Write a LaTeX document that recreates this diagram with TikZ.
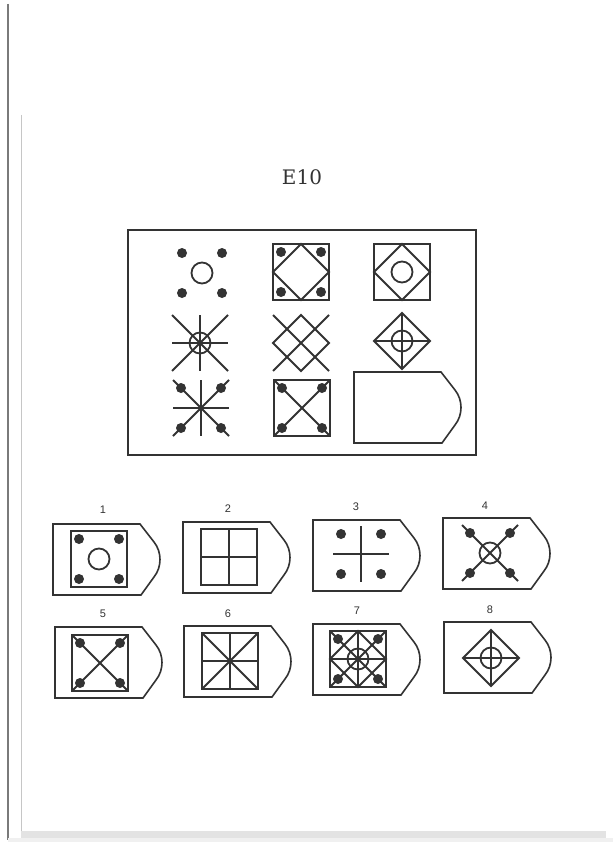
\documentclass[tikz,border=0pt]{standalone}
\usepackage{fontspec}
\newfontfamily\titlefont{DejaVu Serif}
\newfontfamily\labfont{Liberation Sans}
\definecolor{ink}{HTML}{333333}
\definecolor{scan}{HTML}{7A7A7A}
\begin{document}
\begin{tikzpicture}[x=1pt,y=-1pt,
  fig/.style={draw=ink, line width=1.8pt, line join=miter},
  dotfill/.style={fill=ink},
  lab/.style={font=\labfont\fontsize{11}{13}\selectfont, text=ink},
  sqr/.pic={\draw[fig] (-28,-28) rectangle (28,28);},
  dia/.pic={\draw[fig] (0,-28) -- (28,0) -- (0,28) -- (-28,0) -- cycle;},
  circ/.pic={\draw[fig] (0,0) circle[radius=10.5pt];},
  crs/.pic={\draw[fig] (-28,0) -- (28,0) (0,-28) -- (0,28);},
  xd/.pic={\draw[fig] (-28,-28) -- (28,28) (28,-28) -- (-28,28);},
  fourdots/.pic={\fill[dotfill] (-20,-20) circle[radius=5pt] (20,-20) circle[radius=5pt]
      (-20,20) circle[radius=5pt] (20,20) circle[radius=5pt];},
  tagshape/.pic={\draw[fig, line width=1.6pt] (0,0) -- (87,0) -- (101,18)
      .. controls (109,28) and (109,43) .. (101,53) -- (88,71) -- (0,71) -- cycle;}
]
\fill[white] (0,0) rectangle (613,850);
\useasboundingbox (0,0) rectangle (613,850);
% scan edges
\draw[scan, line width=1.6pt] (8,4) -- (8,840);
\draw[gray!45, line width=0.8pt] (21,115) -- (21,832);
\fill[gray!22] (21,831) rectangle (606,838);
\fill[gray!12] (8,838) rectangle (613,842);

% title
\node[font=\titlefont\fontsize{20}{22}\selectfont, text=ink] (title) at (302,177) {E10};

% matrix frame
\draw[fig, line width=1.8pt] (128,230) rectangle (476,455);

% row 1
\pic at (202,273) {circ};
\pic at (202,273) {fourdots};
\pic at (301,272) {sqr};
\pic at (301,272) {dia};
\pic at (301,272) {fourdots};
\pic at (402,272) {sqr};
\pic at (402,272) {dia};
\pic at (402,272) {circ};
% row 2
\pic at (200,343) {crs};
\pic at (200,343) {xd};
\pic at (200,343) {circ};
\pic at (301,343) {dia};
\pic at (301,343) {xd};
\pic at (402,341) {dia};
\pic at (402,341) {crs};
\pic at (402,341) {circ};
% row 3
\pic at (201,408) {crs};
\pic at (201,408) {xd};
\pic at (201,408) {fourdots};
\pic at (302,408) {sqr};
\pic at (302,408) {xd};
\pic at (302,408) {fourdots};
\pic at (354,372) {tagshape};

% answers row 1
\node[lab] (l1) at (103,510) {1};
\pic at (53,524) {tagshape};
\pic at (99,559) {sqr};
\pic at (99,559) {circ};
\pic at (99,559) {fourdots};

\node[lab] (l2) at (228,509) {2};
\pic at (183,522) {tagshape};
\pic at (229,557) {sqr};
\pic at (229,557) {crs};

\node[lab] (l3) at (356,507) {3};
\pic at (313,520) {tagshape};
\pic at (361,554) {crs};
\pic at (361,554) {fourdots};

\node[lab] (l4) at (485,506) {4};
\pic at (443,518) {tagshape};
\pic at (490,553) {xd};
\pic at (490,553) {circ};
\pic at (490,553) {fourdots};

% answers row 2
\node[lab] (l5) at (103,614) {5};
\pic at (55,627) {tagshape};
\pic at (100,663) {sqr};
\pic at (100,663) {xd};
\pic at (100,663) {fourdots};

\node[lab] (l6) at (228,614) {6};
\pic at (184,626) {tagshape};
\pic at (230,661) {sqr};
\pic at (230,661) {crs};
\pic at (230,661) {xd};
\fill[dotfill] (230,661) circle[radius=2.2pt];

\node[lab] (l7) at (357,611) {7};
\pic at (313,624) {tagshape};
\pic at (358,659) {sqr};
\pic at (358,659) {crs};
\pic at (358,659) {xd};
\pic at (358,659) {dia};
\pic at (358,659) {circ};
\pic at (358,659) {fourdots};

\node[lab] (l8) at (490,610) {8};
\pic at (444,622) {tagshape};
\pic at (491,658) {dia};
\pic at (491,658) {crs};
\pic at (491,658) {circ};
\end{tikzpicture}
\end{document}
